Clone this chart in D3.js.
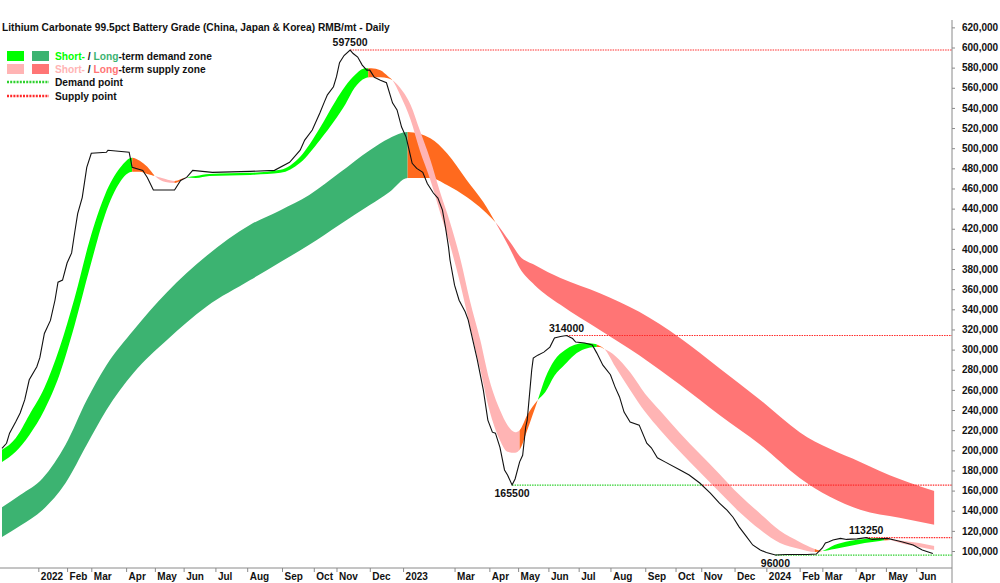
<!DOCTYPE html>
<html>
<head>
<meta charset="utf-8">
<script src="https://cdn.jsdelivr.net/npm/d3@7"></script>
<style>
body{margin:0;background:#fff;}
text{font-family:"Liberation Sans",Arial,sans-serif;font-weight:bold;}
</style>
</head>
<body>
<script>
const W = 1000, H = 583;

// months on the x axis (trading days in each month, "" = no label)
const monthLabels = ["2022","Feb","Mar","Apr","May","Jun","Jul","Aug","Sep","Oct","Nov","Dec",
  "2023","","Mar","Apr","May","Jun","Jul","Aug","Sep","Oct","Nov","Dec",
  "2024","Feb","Mar","Apr","May","Jun"];
const monthDays = [19,16,23,19,19,21,21,23,21,15,22,22,
  14,20,23,19,20,20,21,23,20,17,22,21,
  22,15,22,20,20,12];
const leadDays = 24; // trading days shown before Jan 2022

// daily close, sampled by trading-day index
const priceDay = [0,3,5,9,12,15,18,23,25,28,32,35,37,40,43,46,48,50,53,56,59,69,70,84,86,93,96,100,114,118,122,126,139,164,180,190,197,200,205,210,213,215,219,221,223,226,230,232,235,238,241,243,246,250,254,258,261,264,267,269,271,274,278,281,285,288,291,293,295,296,299,302,306,308,314,318,321,324,326,329,332,334,337,339,342,344,346,347,350,351,354,358,362,365,369,373,377,379,385,390,393,397,402,405,408,411,415,421,426,429,433,438,448,454,461,468,474,479,483,487,492,496,501,505,511,518,532,538,542,544,546,549,554,558,565,571,575,580,585,591,595,602,608,615];
const priceVal = [202000,207000,217000,228000,237000,250000,270000,283000,292000,316000,329000,349000,367000,369000,386000,396000,416000,435000,451000,481000,495000,496000,498000,496000,481000,478000,471000,458500,458500,468000,471000,478000,476000,477000,478000,486000,498000,508000,518000,535000,546000,553000,561000,571000,585000,592000,597500,594000,590500,582500,577500,577500,570500,567500,565000,545000,538000,521000,511000,498000,485000,480000,476000,465000,455500,450500,438500,421500,402000,389000,364000,349000,337500,329500,290000,260000,230000,218000,217000,203000,180500,175500,165500,171500,188500,195000,223000,230000,280000,291500,294500,297500,302500,311500,313000,314000,311000,307500,306500,304500,296500,284500,275000,263000,253000,238000,228000,225000,207000,202500,192500,188500,180500,175500,167500,157500,147500,140500,133500,124000,114000,106000,101000,98500,96000,96500,96500,97000,103000,108000,109000,111000,112500,111500,112000,113250,111500,112000,112500,110500,109000,106000,101000,97500];

// short-term zone: fast and slow edges
const stDay  = [0,9,18,28,38,48,58,68,78,86,91,96,101,108,114,122,128,137,164,184,197,210,220,227,233,240,244,250,255,258,263,270,276,283,289,296,303,309,316,322,329,334,339,342,347,354,359,365,372,378,385,392,395,398,405,415,425,435,448,461,474,487,501,514,527,537,542,550,560,570,580,587,596,606,616];
const stFast = [200500,212000,235000,262000,301500,351500,409000,453500,480500,490500,487500,481500,472500,466500,465500,471000,472500,474500,475500,478500,491500,520000,546000,562000,572500,579500,579500,577500,571500,567500,553000,528000,498000,468500,438500,404000,364000,324500,280000,240000,210000,198500,197500,200500,220000,250000,272000,289500,299500,304500,306500,305500,303500,300500,283500,260000,238000,220000,198500,178500,158500,139000,121000,108000,102000,99000,100000,106000,110000,112000,113000,111000,107000,104000,101000];
const stSlow = [188500,198500,215000,240000,275000,324500,381000,433500,466500,476500,476500,474500,472500,469500,467500,471000,470500,472500,473500,475500,485500,508000,528000,544000,560000,569500,570500,570500,569500,567500,560000,543000,518000,488500,458500,426500,389000,349500,309500,270000,240000,225000,218000,220000,235000,250000,258000,274000,285500,294500,300500,302500,302500,300500,294000,277500,256000,239000,217000,196500,176500,156000,137000,120000,109000,102000,100000,102000,105000,108000,110000,111000,110000,108000,105000];

// long-term zone: fast and slow edges
const ltDay  = [0,12,27,42,56,69,87,109,135,164,184,203,223,243,256,268,283,294,307,318,326,336,342,352,369,395,421,448,474,501,527,567,593,616];
const ltFast = [143500,155500,172500,205500,250000,284500,319500,357000,393000,424000,438500,453500,475500,498000,510000,516000,510000,495000,468500,446500,426500,399000,381000,364000,344500,319500,294500,265000,235000,205500,172500,141000,133000,126000];
const ltSlow = [114000,125000,141000,167500,205500,240000,277000,309500,342500,369000,387000,404000,424000,443500,456500,470500,470500,463500,451500,438500,426500,406000,393000,384000,371000,356000,337500,311500,281500,250000,218000,188500,171500,159500];

// zone states by trading-day span: d = demand, s = supply, t = turning
const stZoneFrom  = [0,86,101,114,122,242,258,342,354,393,398,537,542,583,587];
const stZoneTo    = [86,101,114,122,242,258,342,354,393,398,537,542,583,587,616];
const stZoneState = ["d","t","s","t","d","t","s","t","d","t","s","t","d","t","s"];
const ltZoneFrom  = [0,268,326];
const ltZoneTo    = [268,326,616];
const ltZoneState = ["d","t","s"];

// demand / supply points
const pointDay   = [230,373,337,511,571];
const pointVal   = [597500,314000,165500,96000,113250];
const pointKind  = ["s","s","d","d","s"];
const pointLabel = ["above","above","below","below","above"];
const pointFlipDay = [null,null,463,null,null]; // broken demand point turns into supply

const yTicks = d3.range(100000, 620001, 20000);

const stColor = {d:"#00ff00", s:"#ffb4b4", t:"#ff6a1e"};
const ltColor = {d:"#3cb371", s:"#ff7575", t:"#ff6a1e"};
const ptColor = {d:"#2ed12e", s:"#ff2a2a"};

const svg = d3.select("body").append("svg")
  .attr("width", W).attr("height", H);

const axisX = 952, axisY = 568;
const x = d3.scaleLinear().domain([0, 627]).range([2, 951]);
const y = d3.scaleLinear().domain([100000, 600000]).range([551, 47.5]);

const price = priceDay.map((d,i)=>({day:d, v:priceVal[i]}));
const st = stDay.map((d,i)=>({day:d, fast:stFast[i], slow:stSlow[i]}));
const lt = ltDay.map((d,i)=>({day:d, fast:ltFast[i], slow:ltSlow[i]}));

const defs = svg.append("defs");
function zoneBand(name, data, from, to, state, colors){
  const area = d3.area()
    .x(d=>x(d.day)).y0(d=>y(d.slow)).y1(d=>y(d.fast))
    .curve(d3.curveMonotoneX);
  from.forEach((f,i)=>{
    const id = name + i;
    defs.append("clipPath").attr("id", id).append("rect")
      .attr("x", x(f)).attr("width", x(to[i]) - x(f))
      .attr("y", 0).attr("height", H);
    svg.append("path").datum(data)
      .attr("d", area)
      .attr("fill", colors[state[i]])
      .attr("clip-path", `url(#${id})`);
  });
}
zoneBand("lt", lt, ltZoneFrom, ltZoneTo, ltZoneState, ltColor);
zoneBand("st", st, stZoneFrom, stZoneTo, stZoneState, stColor);

// demand / supply point lines
pointDay.forEach((d,i)=>{
  const yy = y(pointVal[i]);
  const flip = pointFlipDay[i];
  const segs = flip == null
    ? [[x(d), axisX, pointKind[i]]]
    : [[x(d), x(flip), pointKind[i]], [x(flip), axisX, pointKind[i]==="d" ? "s" : "d"]];
  segs.forEach(s=>{
    svg.append("line")
      .attr("x1", s[0]).attr("x2", s[1]).attr("y1", yy).attr("y2", yy)
      .attr("stroke", ptColor[s[2]]).attr("stroke-width", 1.2)
      .attr("stroke-dasharray", "1.5,1");
  });
});

// price line
svg.append("path").datum(price)
  .attr("d", d3.line().x(d=>x(d.day)).y(d=>y(d.v)))
  .attr("fill", "none").attr("stroke", "#111").attr("stroke-width", 1.1);

// point labels
pointDay.forEach((d,i)=>{
  svg.append("text")
    .attr("x", x(d)).attr("y", y(pointVal[i]) + (pointLabel[i]==="above" ? -4 : 12))
    .attr("text-anchor", "middle").attr("font-size", 10.5).attr("fill", "#111")
    .text(pointVal[i]);
});

// right axis
svg.append("line").attr("x1", axisX).attr("x2", axisX).attr("y1", 20).attr("y2", H)
  .attr("stroke", "#8a8a8a");
const ya = svg.append("g").attr("transform", `translate(${axisX},0)`)
  .call(d3.axisRight(y).tickValues(yTicks).tickFormat(d3.format(",")).tickSize(3).tickPadding(7));
ya.select(".domain").remove();
ya.selectAll("line").attr("stroke", "#8a8a8a");
ya.selectAll("text").attr("font-size", 10).attr("fill", "#111")
  .style("font-family", '"Liberation Sans",Arial,sans-serif').style("font-weight", "bold");

// bottom axis
svg.append("line").attr("x1", 0).attr("x2", axisX).attr("y1", axisY).attr("y2", axisY)
  .attr("stroke", "#8a8a8a");
let start = leadDays;
const monthStart = [];
monthLabels.forEach((m,i)=>{ monthStart.push(start); start += monthDays[i]; });
const xt = monthStart.filter((s,i)=>monthLabels[i] !== "");
const xl = monthLabels.filter(m=>m !== "");
const xa = svg.append("g").attr("transform", `translate(0,${axisY})`)
  .call(d3.axisBottom(x).tickValues(xt).tickFormat((d,i)=>xl[i]).tickSize(4).tickPadding(1));
xa.select(".domain").remove();
xa.selectAll("line").attr("stroke", "#8a8a8a");
xa.selectAll("text").attr("text-anchor", "start").attr("dx", 2).attr("font-size", 10).attr("fill", "#111")
  .style("font-family", '"Liberation Sans",Arial,sans-serif').style("font-weight", "bold");

// title
svg.append("text").attr("x", 2).attr("y", 31).attr("font-size", 10.2).attr("fill", "#111")
  .text("Lithium Carbonate 99.5pct Battery Grade (China, Japan & Korea) RMB/mt - Daily");

// legend
const lg = svg.append("g").attr("font-size", 10.2);
[["d",51],["s",64]].forEach(([k,yy])=>{
  lg.append("rect").attr("x", 7).attr("y", yy).attr("width", 17).attr("height", 10).attr("fill", stColor[k]);
  lg.append("rect").attr("x", 32).attr("y", yy).attr("width", 17).attr("height", 10).attr("fill", ltColor[k]);
  const t = lg.append("text").attr("x", 55).attr("y", yy + 9).attr("fill", "#111");
  t.append("tspan").attr("fill", stColor[k]).text("Short-");
  t.append("tspan").text(" / ");
  t.append("tspan").attr("fill", ltColor[k]).text("Long");
  t.append("tspan").text(k==="d" ? "-term demand zone" : "-term supply zone");
});
[["d",82,"Demand point"],["s",96,"Supply point"]].forEach(([k,yy,lab])=>{
  lg.append("line").attr("x1", 7).attr("x2", 49).attr("y1", yy).attr("y2", yy)
    .attr("stroke", ptColor[k]).attr("stroke-width", 2.5).attr("stroke-dasharray", "2,1.2");
  lg.append("text").attr("x", 55).attr("y", yy + 4).attr("fill", "#111").text(lab);
});
</script>
</body>
</html>
